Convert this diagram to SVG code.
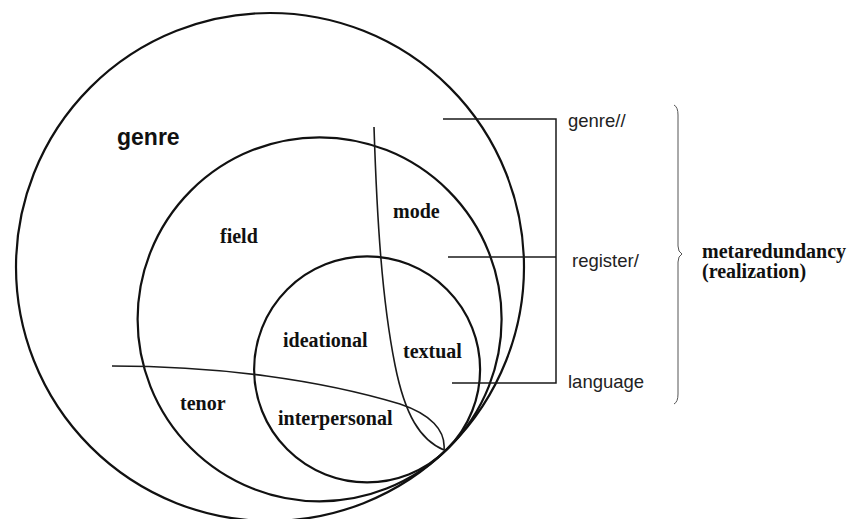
<svg xmlns="http://www.w3.org/2000/svg" width="848" height="519" viewBox="0 0 848 519">
  <style>
    .circ { fill: none; stroke: #111; stroke-width: 2.2; }
    .curve { fill: none; stroke: #1a1a1a; stroke-width: 1.6; }
    .brk { fill: none; stroke: #1a1a1a; stroke-width: 1.5; }
    .brace { fill: none; stroke: #555; stroke-width: 1; }
    .ser { font-family: "Liberation Serif", "Times New Roman", serif; font-weight: bold; font-size: 20px; fill: #111; }
    .sans { font-family: "Liberation Sans", Arial, sans-serif; font-size: 18.5px; fill: #222; }
    .big { font-family: "Liberation Sans", Arial, sans-serif; font-weight: bold; font-size: 23px; fill: #111; }
  </style>
  <rect width="848" height="519" fill="#fff"/>

  <g id="genre">
    <circle class="circ" cx="270" cy="267" r="254"/>
    <text class="big" x="117" y="145">genre</text>
  </g>

  <g id="register">
    <circle class="circ" cx="319.6" cy="319.3" r="182"/>
    <text class="ser" x="220" y="243">field</text>
    <text class="ser" x="393" y="218">mode</text>
    <text class="ser" x="180" y="410">tenor</text>
  </g>

  <g id="language">
    <circle class="circ" cx="367.1" cy="369.4" r="113"/>
    <text class="ser" x="283" y="347">ideational</text>
    <text class="ser" x="403" y="358">textual</text>
    <text class="ser" x="278" y="425">interpersonal</text>
  </g>

  <g id="mode-boundary">
    <path class="curve" d="M 374 127 C 377 220, 382 300, 395 365 C 405 415, 420 440, 444 450"/>
  </g>

  <g id="tenor-boundary">
    <path class="curve" d="M 112 366 C 220 366, 320 380, 400 404 C 430 414, 446 430, 444 450"/>
  </g>

  <g id="connectors">
    <path class="brk" d="M 443 119 H 556 V 383 H 452"/>
    <path class="brk" d="M 448 257 H 556"/>
    <path class="brace" d="M 674 105 Q 678 107 678 115 L 678 246 Q 678 252 682 254 Q 678 256 678 262 L 678 394 Q 678 402 674 404"/>
  </g>

  <g id="stratum-labels">
    <text class="sans" x="568" y="127">genre//</text>
    <text class="sans" x="572" y="267">register/</text>
    <text class="sans" x="568" y="388">language</text>
  </g>

  <g id="metaredundancy">
    <text class="ser" x="702" y="258">metaredundancy</text>
    <text class="ser" x="702" y="278">(realization)</text>
  </g>
</svg>
